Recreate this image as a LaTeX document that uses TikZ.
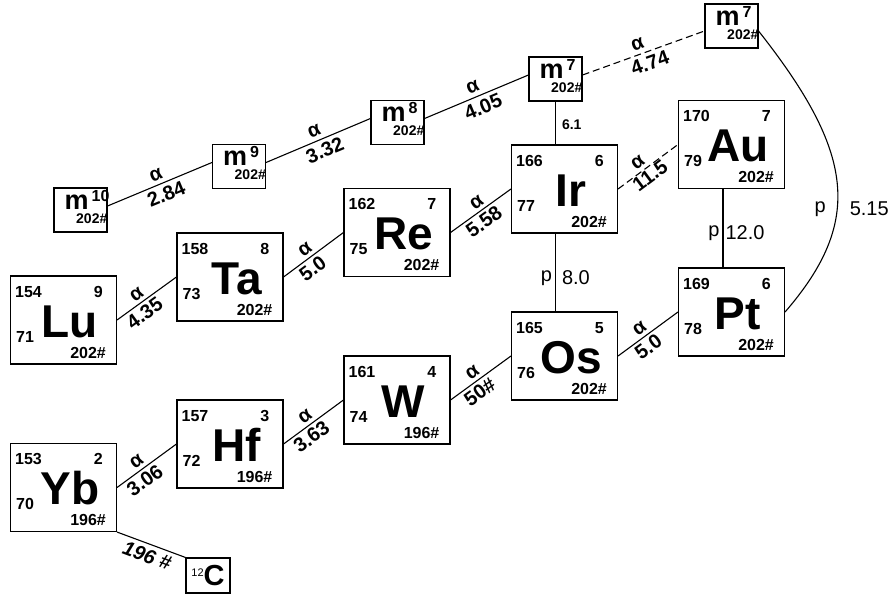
\documentclass[tikz,border=0pt]{standalone}
\usepackage{fontspec}
\setmainfont{Liberation Sans}
\usepackage{tikz}
\usetikzlibrary{positioning}
\tikzstyle{elembox} = [draw, line width=1.1pt, minimum width=106pt, minimum height=88pt, inner sep=0pt]
\tikzstyle{mbox} = [draw, line width=1.1pt, minimum width=53pt, minimum height=44pt, inner sep=0pt]
\tikzstyle{cbox} = [draw, line width=1.1pt, minimum width=44pt, minimum height=35pt, inner sep=0pt]
\tikzstyle{num} = [font=\fontsize{16}{16}\selectfont\bfseries, inner sep=0pt]
\tikzstyle{sym} = [font=\fontsize{46}{46}\selectfont\bfseries, inner sep=0pt]
\tikzstyle{mtext} = [font=\fontsize{27}{27}\selectfont\bfseries, inner sep=0pt]
\tikzstyle{msup} = [font=\fontsize{16}{16}\selectfont\bfseries, inner sep=0pt]
\tikzstyle{mcount} = [font=\fontsize{14}{14}\selectfont\bfseries, inner sep=0pt]
\tikzstyle{lab} = [font=\fontsize{20}{20}\selectfont\bfseries, inner sep=0pt]
\tikzstyle{plab} = [font=\fontsize{20}{20}\selectfont, inner sep=0pt]
\tikzstyle{decay} = [line width=1.1pt]
\tikzstyle{weak} = [line width=1.1pt, dash pattern=on 7pt off 4pt]

% element square: name, centre, mass, corner, Z, symbol, count
\newcommand{\elem}[7]{%
	\node[elembox] (#1) at (#2) {};
	\node[num, anchor=base west] at ([xshift=5pt,yshift=-22pt]#1.north west) {#3};
	\node[num, anchor=base east] at ([xshift=-14pt,yshift=-22pt]#1.north east) {#4};
	\node[num, anchor=base west] at ([xshift=6pt,yshift=-67pt]#1.north west) {#5};
	\node[sym, anchor=base] at ([xshift=60pt,yshift=-62pt]#1.north west) {#6};
	\node[num, anchor=base east] at ([xshift=-11pt,yshift=-83pt]#1.north east) {#7};
}
% small m square: name, centre, superscript
\newcommand{\mstate}[3]{%
	\node[mbox] (#1) at (#2) {};
	\node[mtext, anchor=base west] at ([xshift=11pt,yshift=-22pt]#1.north west) {m};
	\node[msup, anchor=base west] at ([xshift=38pt,yshift=-14pt]#1.north west) {#3};
	\node[mcount, anchor=base east] at ([xshift=0pt,yshift=-36pt]#1.north east) {202\#};
}

\begin{document}
\begin{tikzpicture}[x=1pt, y=-1pt]
	\useasboundingbox (0,0) rectangle (890,596);

	% lower chain
	\elem{Yb}{63.5,487.5}{153}{2}{70}{Yb}{196\#}
	\elem{Hf}{230,444}{157}{3}{72}{Hf}{196\#}
	\elem{W}{397,400}{161}{4}{74}{W}{196\#}
	\elem{Os}{564.5,356}{165}{5}{76}{Os}{202\#}
	\elem{Pt}{731.5,312}{169}{6}{78}{Pt}{202\#}
	% upper chain
	\elem{Lu}{63.5,320}{154}{9}{71}{Lu}{202\#}
	\elem{Ta}{230,277}{158}{8}{73}{Ta}{202\#}
	\elem{Re}{397,232.5}{162}{7}{75}{Re}{202\#}
	\elem{Ir}{564.5,189}{166}{6}{77}{Ir}{202\#}
	\elem{Au}{731.5,144.5}{170}{7}{79}{Au}{202\#}
	% isomers
	\mstate{mTen}{80.5,210}{10}
	\mstate{mNine}{239,166.5}{9}
	\mstate{mEight}{397.5,122.5}{8}
	\mstate{mSevenA}{555.5,79}{7}
	\mstate{mSevenB}{731.5,26}{7}
	\node[cbox] (C12) at (208,575.5) {{\fontsize{11}{11}\selectfont\raisebox{9pt}{12}}{\fontsize{29}{29}\selectfont\bfseries C}};

	% alpha lines
	\draw[decay] ([yshift=4pt]mTen.east) -- node[lab, pos=0.5, above=4pt, sloped] {α} node[lab, pos=0.52, below=4pt, sloped] {2.84} ([yshift=4pt]mNine.west);
	\draw[decay] ([yshift=4pt]mNine.east) -- node[lab, pos=0.5, above=4pt, sloped] {α} node[lab, pos=0.52, below=4pt, sloped] {3.32} ([yshift=4pt]mEight.west);
	\draw[decay] ([yshift=4pt]mEight.east) -- node[lab, pos=0.5, above=4pt, sloped] {α} node[lab, pos=0.52, below=4pt, sloped] {4.05} ([yshift=4pt]mSevenA.west);
	\draw[weak] ([yshift=4pt]mSevenA.east) -- node[lab, pos=0.48, above=4pt, sloped] {α} node[lab, pos=0.52, below=4pt, sloped] {4.74} ([yshift=-5pt]mSevenB.west);
	\draw[decay] (Lu.east) -- node[lab, pos=0.42, above=3pt, sloped] {α} node[lab, pos=0.36, below=3pt, sloped] {4.35} (Ta.west);
	\draw[decay] (Ta.east) -- node[lab, pos=0.45, above=3pt, sloped] {α} node[lab, pos=0.38, below=3pt, sloped] {5.0} (Re.west);
	\draw[decay] (Re.east) -- node[lab, pos=0.52, above=3pt, sloped] {α} node[lab, pos=0.45, below=3pt, sloped] {5.58} (Ir.west);
	\draw[weak] (Ir.east) -- node[lab, pos=0.42, above=3pt, sloped] {α} node[lab, pos=0.45, below=1pt, sloped] {11.5} (Au.west);
	\draw[decay] (Yb.east) -- node[lab, pos=0.42, above=3pt, sloped] {α} node[lab, pos=0.36, below=3pt, sloped] {3.06} (Hf.west);
	\draw[decay] (Hf.east) -- node[lab, pos=0.45, above=3pt, sloped] {α} node[lab, pos=0.36, below=3pt, sloped] {3.63} (W.west);
	\draw[decay] (W.east) -- node[lab, pos=0.45, above=3pt, sloped] {α} node[lab, pos=0.38, below=3pt, sloped] {50\#} (Os.west);
	\draw[decay] (Os.east) -- node[lab, pos=0.45, above=3pt, sloped] {α} node[lab, pos=0.4, below=3pt, sloped] {5.0} (Pt.west);
	\draw[decay] (Yb.south east) -- node[lab, pos=0.5, below=4pt, sloped, font=\fontsize{20}{20}\selectfont\bfseries\itshape] {196 \#} (C12.north west);

	% proton lines
	\draw[decay] (mSevenA.south) -- node[pos=0.55, right=6pt, font=\fontsize{14}{14}\selectfont\bfseries, inner sep=0pt] {6.1} (Ir.north -| mSevenA.south);
	\draw[decay] (Ir.south -| mSevenA.south) -- node[plab, pos=0.57, left=3pt] {p} node[plab, pos=0.57, right=6pt] {8.0} (Os.north -| mSevenA.south);
	\draw[decay] ([xshift=-8.5pt]Au.south) -- node[plab, pos=0.56, left=3pt] {p} node[plab, pos=0.56, right=2pt] {12.0} ([xshift=-8.5pt]Pt.north);
	\draw[decay] ([yshift=-5pt]mSevenB.east) .. controls (854.5,152.6) and (863.5,221.3) .. node[plab, pos=0.6, left=11pt] {p} node[plab, pos=0.6, right=12pt] {5.15} (Pt.east);
\end{tikzpicture}
\end{document}
